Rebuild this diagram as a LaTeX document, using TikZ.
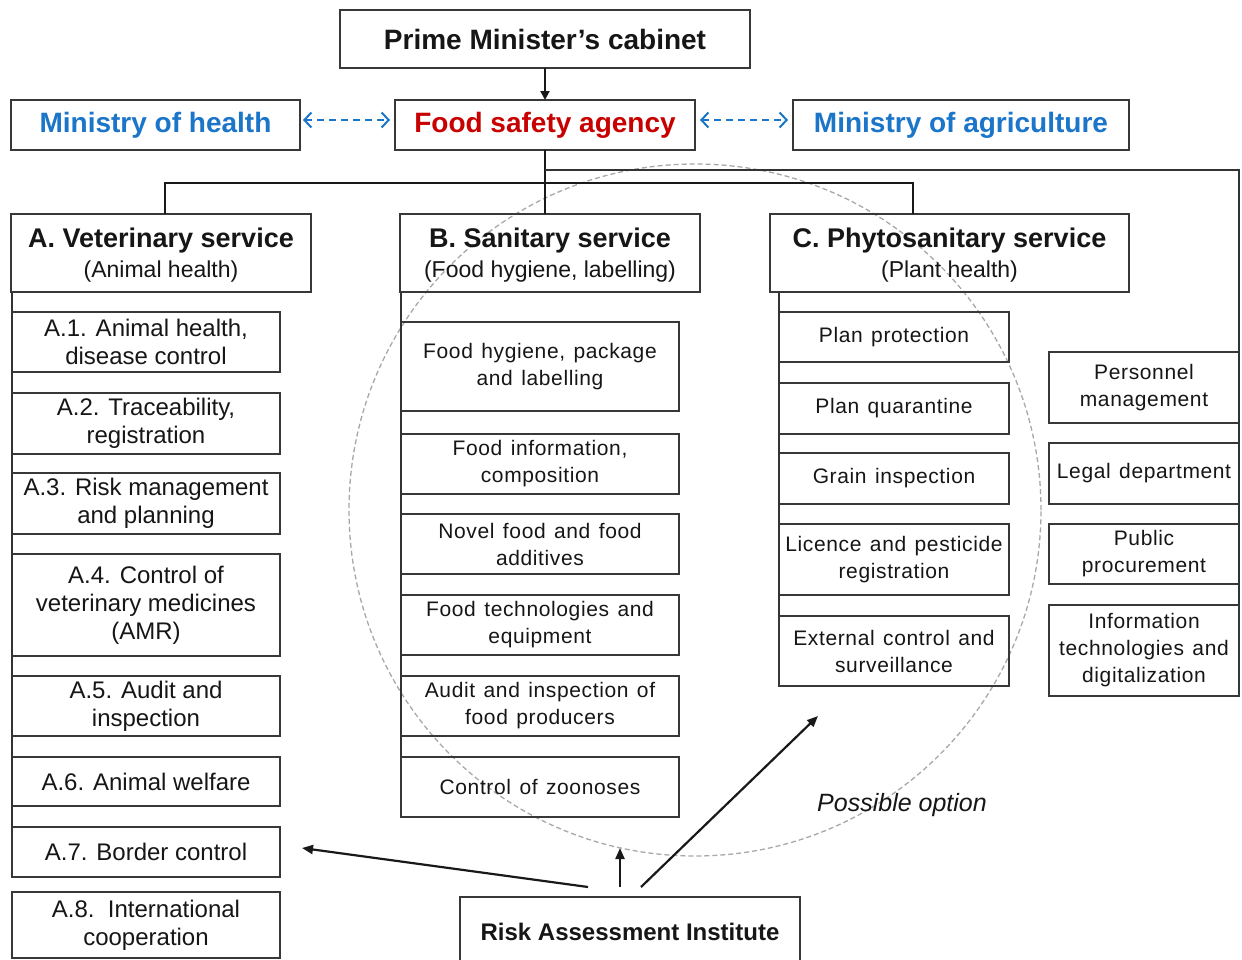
\documentclass[tikz,border=0pt]{standalone}
\usepackage{fontspec}
\setmainfont{Liberation Sans}
\newfontfamily\widefont[LetterSpace=3.0,WordSpace=1.3]{Liberation Sans}
\usetikzlibrary{arrows.meta}

\definecolor{boxgray}{HTML}{383838}
\definecolor{txt}{HTML}{161616}
\definecolor{minblue}{HTML}{1B75C8}
\definecolor{agred}{HTML}{C80000}
\definecolor{circgray}{HTML}{A8A8A8}

\newcommand{\headtitle}[1]{{\fontsize{27}{30}\selectfont\bfseries #1}}

\tikzset{
  box/.style={draw=boxgray, line width=1.4pt, rectangle, inner sep=0pt,
    outer sep=0pt, align=center, text=txt},
  topbox/.style={box, font=\bfseries\fontsize{28}{32}\selectfont},
  headbox/.style={box, font=\fontsize{23}{30}\selectfont,
    minimum height=78pt, text depth=-6pt},
  asub/.style={box, font=\fontsize{24}{28}\selectfont, minimum width=268pt},
  bsub/.style={box, font=\widefont\fontsize{21}{27}\selectfont,
    minimum width=278pt},
  csub/.style={box, font=\widefont\fontsize{21}{27}\selectfont,
    minimum width=230pt},
  ssub/.style={box, font=\widefont\fontsize{21}{27}\selectfont,
    minimum width=190pt},
  tree/.style={draw=black!90, line width=2pt},
  spine/.style={draw=black!80, line width=1.6pt},
  downarrow/.style={draw=black!90, line width=2pt,
    -{Triangle[length=9pt,width=9pt]}},
  linkarrow/.style={draw=minblue, line width=2pt,
    dash pattern=on 7pt off 5pt,
    {Straight Barb[length=7pt,width=15pt]}-{Straight Barb[length=7pt,width=15pt]}},
  riskarrow/.style={draw=black!90, line width=2.2pt,
    -{Triangle[length=11pt,width=9pt]}},
  optarea/.style={circle, draw=circgray, line width=1.3pt,
    dash pattern=on 5pt off 3pt, inner sep=0pt, minimum size=692pt}
}

\begin{document}
\begin{tikzpicture}[x=1pt,y=-1pt]
\useasboundingbox (0,0) rectangle (1242,959);
\fill[white] (0,0) rectangle (1242,959);

% area of the possible option
\node[optarea] (opt) at (695,510) {};

% top level
\node[topbox, minimum width=410pt, minimum height=58pt] (pm) at (545,39) {Prime Minister’s cabinet};
\node[topbox, text=minblue, minimum width=289pt, minimum height=50pt] (mh) at (155.5,125) {Ministry of health};
\node[topbox, text=agred, minimum width=300pt, minimum height=50pt] (fsa) at (545,125) {Food safety agency};
\node[topbox, text=minblue, minimum width=336pt, minimum height=50pt] (ma) at (961,125) {Ministry of agriculture};

% services
\node[headbox, minimum width=300pt] (A) at (161,253) {\headtitle{A. Veterinary service}\\(Animal health)};
\node[headbox, minimum width=300pt] (B) at (550,253) {\headtitle{B. Sanitary service}\\(Food hygiene, labelling)};
\node[headbox, minimum width=359pt] (C) at (949.5,253) {\headtitle{C. Phytosanitary service}\\(Plant health)};

% veterinary units
\node[asub, minimum height=60pt] (a1) at (146,342) {A.1. Animal health,\\disease control};
\node[asub, minimum height=61pt] (a2) at (146,423.5) {A.2. Traceability,\\registration};
\node[asub, minimum height=61pt] (a3) at (146,503.5) {A.3. Risk management\\and planning};
\node[asub, minimum height=102pt] (a4) at (146,605) {A.4. Control of\\veterinary medicines\\(AMR)};
\node[asub, minimum height=60pt] (a5) at (146,706) {A.5. Audit and\\inspection};
\node[asub, minimum height=49pt] (a6) at (146,781.5) {A.6. Animal welfare};
\node[asub, minimum height=50pt] (a7) at (146,852) {A.7. Border control};
\node[asub, minimum height=66pt] (a8) at (146,925) {A.8.\ \ International\\cooperation};

% sanitary units
\node[bsub, minimum height=89pt] (b1) at (540,366.5) {Food hygiene, package\\and labelling};
\node[bsub, minimum height=60pt] (b2) at (540,464) {Food information,\\composition};
\node[bsub, minimum height=60pt] (b3) at (540,544) {Novel food and food\\additives};
\node[bsub, minimum height=60pt] (b4) at (540,625) {Food technologies and\\equipment};
\node[bsub, minimum height=60pt] (b5) at (540,706) {Audit and inspection of\\food producers};
\node[bsub, minimum height=60pt] (b6) at (540,787) {Control of zoonoses};

% phytosanitary units
\node[csub, minimum height=50pt] (c1) at (894,337) {Plan protection};
\node[csub, minimum height=51pt] (c2) at (894,408.5) {Plan quarantine};
\node[csub, minimum height=51pt] (c3) at (894,478.5) {Grain inspection};
\node[csub, minimum height=71pt] (c4) at (894,559.5) {Licence and pesticide\\registration};
\node[csub, minimum height=70pt] (c5) at (894,651) {External control and\\surveillance};

% support units
\node[ssub, minimum height=71pt] (s1) at (1144,387.5) {Personnel\\management};
\node[ssub, minimum height=61pt] (s2) at (1144,473.5) {Legal department};
\node[ssub, minimum height=60pt] (s3) at (1144,554) {Public\\procurement};
\node[ssub, minimum height=91pt] (s4) at (1144,650.5) {Information\\technologies and\\digitalization};

% risk assessment
\node[box, font=\bfseries\fontsize{24}{28}\selectfont, minimum width=340pt, minimum height=70pt] (rai) at (630,932) {Risk Assessment Institute};
\node[font=\itshape\fontsize{25}{28}\selectfont, text=txt] (optlabel) at (902,805) {Possible option};

% hierarchy
\draw[downarrow] (pm) -- (fsa);
\draw[linkarrow, shorten <=3pt, shorten >=5pt] ([yshift=5pt]mh.east) -- ([yshift=5pt]fsa.west);
\draw[linkarrow, shorten <=5pt, shorten >=5pt] ([yshift=5pt]fsa.east) -- ([yshift=5pt]ma.west);

\coordinate (busA) at (165,183);
\coordinate (busC) at (913,183);
\coordinate (busS) at (1239,170);
\draw[tree] (fsa.south) -- (fsa.south |- B.north);
\draw[tree] ([xshift=4pt]A.north) -- (busA) -- (busC) -- (busC |- C.north);
\draw[spine] (fsa.south |- busS) -- (busS) -- (s4.north east);

\draw[spine] (A.south -| a1.west) -- (a7.north west);
\draw[spine] (B.south -| b1.west) -- (b6.north west);
\draw[spine] (C.south -| c1.west) -- (c5.north west);

% risk assessment links
\coordinate (tipA) at (302,848);
\coordinate (tipB) at (620,848);
\coordinate (tipC) at (818,716);
\draw[riskarrow] ([shift={(128pt,10pt)}]rai.north west) -- (tipA);
\draw[riskarrow] ([shift={(160pt,10pt)}]rai.north west) -- (tipB);
\draw[riskarrow] ([shift={(181pt,10pt)}]rai.north west) -- (tipC);
\end{tikzpicture}
\end{document}
